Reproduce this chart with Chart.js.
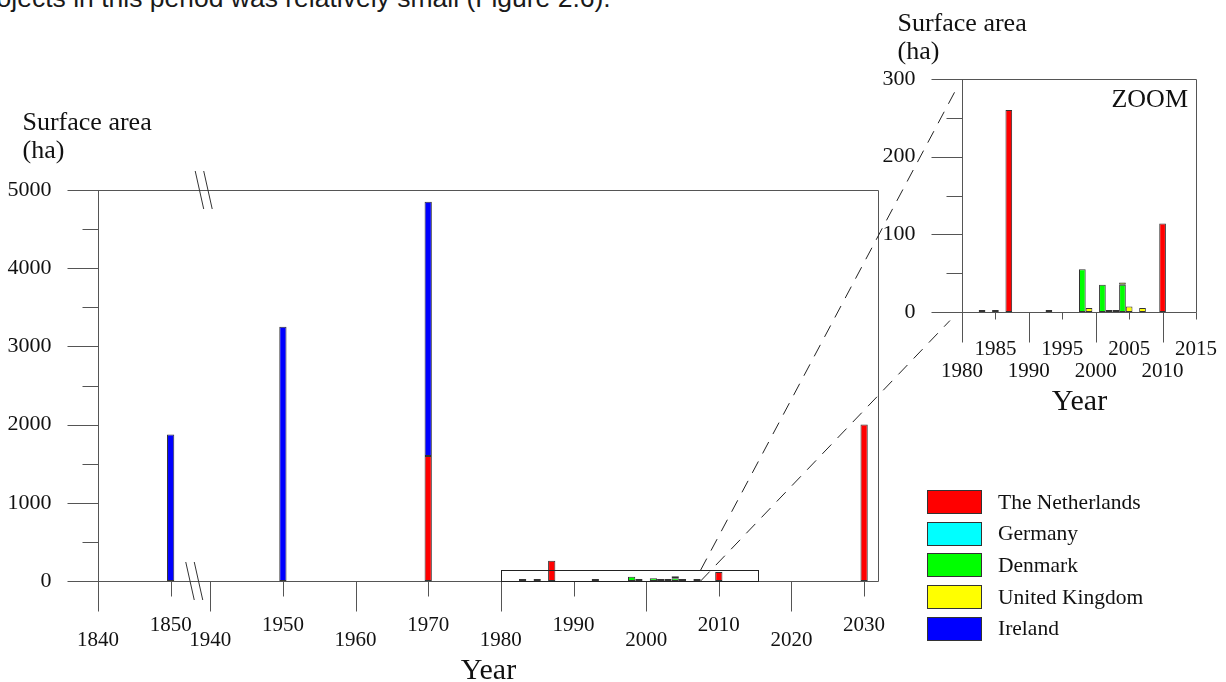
<!DOCTYPE html>
<html>
<head>
<meta charset="utf-8">
<script src="https://cdn.jsdelivr.net/npm/chart.js@4.4.1/dist/chart.umd.min.js"></script>
<style>
    html, body { margin: 0; padding: 0; background: #fff; }
    body { width: 1226px; height: 682px; position: relative; overflow: hidden; }
    canvas { position: absolute; left: 0; top: 0; }
    #intro {
        position: absolute; left: -27px; top: -15px;
        font: 26.5px "Liberation Sans", Arial, sans-serif; line-height: 26px;
        white-space: nowrap; color: #1a1a1a;
    }
    #legend { position: absolute; left: 927px; top: 490px; font: 21.5px "Liberation Serif", serif; color: #111; }
    .item { display: flex; align-items: center; height: 24px; margin-bottom: 7.7px; }
    .swatch { width: 55px; height: 24px; box-sizing: border-box; border: 1px solid #333; margin-right: 16px; }
</style>
</head>
<body>
<div id="intro">projects in this period was relatively small (Figure 2.6).</div>
<canvas id="main" width="1226" height="682"></canvas>
<canvas id="zoom" width="1226" height="682"></canvas>
<div id="legend"></div>
<script>
// surface area (ha) per country and year
const countries = ["The Netherlands", "Germany", "Denmark", "United Kingdom", "Ireland"];
const colors = ["#ff0000", "#00ffff", "#00ff00", "#ffff00", "#0000ff"];

const nlYears = [1970, 1987, 2010, 2030];
const nlArea = [1600, 260, 114, 2000];
const deYears = [1983, 1985, 1993, 2002, 2003];
const deArea = [0.5, 0.5, 0.5, 0.5, 0.5];
const dkYears = [1998, 2001, 2004];
const dkArea = [55, 35, 35];
const ukYears = [1999, 2004, 2005, 2007];
const ukArea = [5, 3, 7, 5];
const ieYears = [1850, 1950, 1970];
const ieArea = [1875, 3250, 3250];

const mainTicks = [1840, 1850, 1940, 1950, 1960, 1970, 1980, 1990, 2000, 2010, 2020, 2030];
const zoomTicks = [1980, 1985, 1990, 1995, 2000, 2005, 2010, 2015];

const series = [[nlYears, nlArea], [deYears, deArea], [dkYears, dkArea], [ukYears, ukArea], [ieYears, ieArea]];

const AXIS = "#555";
const INK = "#111";
const SERIF = '"Liberation Serif", "Times New Roman", serif';

// main x axis is broken between 1850s and 1940: fold years onto one scale
const GAP_AT = 15.45;
function fold(year) {
    return year < 1900 ? year - 1840 : year - 1940 + GAP_AT;
}
function same(year) {
    return year;
}

function buildDatasets(mapX, keep) {
    return series.map(([years, area], i) => ({
        label: countries[i],
        data: years
            .map((yr, j) => ({ x: mapX(yr), y: area[j], yr: yr }))
            .filter(p => keep(p.yr)),
        backgroundColor: colors[i],
        borderColor: "#333",
        borderWidth: 1,
        borderSkipped: false,
        inflateAmount: 0,
        minBarLength: 2,
        barPercentage: 1,
        categoryPercentage: 1,
        clip: 0
    }));
}

function drawFrame(chart, cfg) {
    const { ctx, chartArea: a, scales: { x, y } } = chart;
    const L = Math.round(a.left) + 0.5, R = Math.round(a.right) + 0.5;
    const T = Math.round(a.top) + 0.5, B = Math.round(a.bottom) + 0.5;

    ctx.save();
    ctx.strokeStyle = AXIS;
    ctx.lineWidth = 1;
    ctx.beginPath();
    ctx.moveTo(L - 31, T); ctx.lineTo(R, T);
    ctx.moveTo(L - 31, B); ctx.lineTo(R, B);
    ctx.moveTo(L, T); ctx.lineTo(L, B);
    ctx.moveTo(R, T); ctx.lineTo(R, B);

    const half = cfg.yStep / 2;
    for (let v = half; v < y.max; v += half) {
        const py = Math.round(y.getPixelForValue(v)) + 0.5;
        ctx.moveTo(L - (v % cfg.yStep ? 16 : 31), py);
        ctx.lineTo(L, py);
    }
    cfg.ticks.forEach((yr, i) => {
        const px = Math.round(x.getPixelForValue(cfg.toX(yr))) + 0.5;
        ctx.moveTo(px, B);
        ctx.lineTo(px, B + (i % 2 === 0 ? cfg.longTick : cfg.shortTick));
    });
    ctx.stroke();

    ctx.fillStyle = INK;
    ctx.font = "22px " + SERIF;
    ctx.textAlign = "right";
    ctx.textBaseline = "middle";
    for (let v = 0; v <= y.max; v += cfg.yStep) {
        ctx.fillText(String(v), L - 47, y.getPixelForValue(v));
    }

    ctx.font = "21px " + SERIF;
    ctx.textAlign = "center";
    cfg.ticks.forEach((yr, i) => {
        const px = x.getPixelForValue(cfg.toX(yr));
        ctx.fillText(String(yr), px, B + (i % 2 === 0 ? cfg.lowerRow : cfg.upperRow));
    });

    ctx.textBaseline = "alphabetic";
    ctx.font = "30px " + SERIF;
    ctx.fillText("Year", (L + R) / 2, B + 97);

    ctx.font = "26px " + SERIF;
    ctx.textAlign = "left";
    ctx.fillText("Surface area", L + cfg.titleX, T + cfg.titleY);
    ctx.fillText("(ha)", L + cfg.titleX, T + cfg.titleY + 28);
    ctx.restore();
}

function breakMark(ctx, cx, cy) {
    ctx.moveTo(cx - 8.5, cy - 19); ctx.lineTo(cx, cy + 19);
    ctx.moveTo(cx, cy - 19); ctx.lineTo(cx + 8.5, cy + 19);
}

const mainFrame = {
    id: "mainFrame",
    beforeDatasetsDraw(chart) {
        drawFrame(chart, {
            ticks: mainTicks, toX: fold, yStep: 1000,
            longTick: 30, shortTick: 15, upperRow: 44, lowerRow: 59,
            titleX: -76, titleY: -61
        });
        const { ctx, chartArea: a, scales: { x } } = chart;
        ctx.save();
        ctx.strokeStyle = "#333";
        ctx.lineWidth = 1;
        ctx.beginPath();
        breakMark(ctx, x.getPixelForValue(14.55), a.top);
        breakMark(ctx, x.getPixelForValue(13.25), a.bottom);
        ctx.stroke();
        ctx.restore();
    },
    afterDatasetsDraw(chart) {
        // box marking the zoomed part
        const { ctx, scales: { x, y } } = chart;
        const x0 = Math.round(x.getPixelForValue(fold(1980))) + 0.5;
        const x1 = Math.round(x.getPixelForValue(fold(2015.4))) + 0.5;
        const y0 = Math.round(y.getPixelForValue(140)) + 0.5;
        const y1 = Math.round(y.getPixelForValue(0)) + 0.5;
        ctx.save();
        ctx.strokeStyle = "#222";
        ctx.lineWidth = 1;
        ctx.strokeRect(x0, y0, x1 - x0, y1 - y0);
        ctx.restore();
    }
};

function chartOptions(pad, xMin, xMax, yMax) {
    return {
        responsive: false,
        animation: false,
        events: [],
        layout: { padding: pad },
        plugins: { legend: { display: false }, tooltip: { enabled: false } },
        scales: {
            x: { type: "linear", stacked: true, display: false, min: xMin, max: xMax, offset: false },
            y: { stacked: true, display: false, min: 0, max: yMax }
        }
    };
}

const mainChart = new Chart(document.getElementById("main"), {
    type: "bar",
    data: { datasets: buildDatasets(fold, () => true) },
    options: chartOptions({ left: 98, top: 190, right: 348, bottom: 101 }, 0, 107.36, 5000),
    plugins: [mainFrame]
});

const zoomFrame = {
    id: "zoomFrame",
    beforeDatasetsDraw(chart) {
        drawFrame(chart, {
            ticks: zoomTicks, toX: same, yStep: 100,
            longTick: 30, shortTick: 7, upperRow: 37, lowerRow: 59,
            titleX: -65, titleY: -49
        });
    },
    afterDraw(chart) {
        const { ctx, chartArea: a, scales: { x, y } } = chart;
        ctx.save();
        ctx.fillStyle = INK;
        ctx.font = "26px " + SERIF;
        ctx.textAlign = "right";
        ctx.fillText("ZOOM", a.right - 8, a.top + 28);

        // dashed leader lines from the box in the main chart
        const mx = mainChart.scales.x, my = mainChart.scales.y;
        const sx = mx.getPixelForValue(fold(2007.5));
        ctx.strokeStyle = "#222";
        ctx.lineWidth = 1;
        ctx.setLineDash([13, 9]);
        ctx.beginPath();
        ctx.moveTo(sx, my.getPixelForValue(140));
        ctx.lineTo(x.getPixelForValue(1979.2), y.getPixelForValue(288));
        ctx.moveTo(sx, my.getPixelForValue(0));
        ctx.lineTo(x.getPixelForValue(1978.2), y.getPixelForValue(-11));
        ctx.stroke();
        ctx.restore();
    }
};

new Chart(document.getElementById("zoom"), {
    type: "bar",
    data: { datasets: buildDatasets(same, yr => yr >= 1980 && yr <= 2015) },
    options: chartOptions({ left: 962, top: 79, right: 30, bottom: 370 }, 1980, 2015, 300),
    plugins: [zoomFrame]
});

const legend = document.getElementById("legend");
countries.forEach((name, i) => {
    const row = document.createElement("div");
    row.className = "item";
    const swatch = document.createElement("span");
    swatch.className = "swatch";
    swatch.style.background = colors[i];
    const label = document.createElement("span");
    label.textContent = name;
    row.append(swatch, label);
    legend.appendChild(row);
});
</script>
</body>
</html>
